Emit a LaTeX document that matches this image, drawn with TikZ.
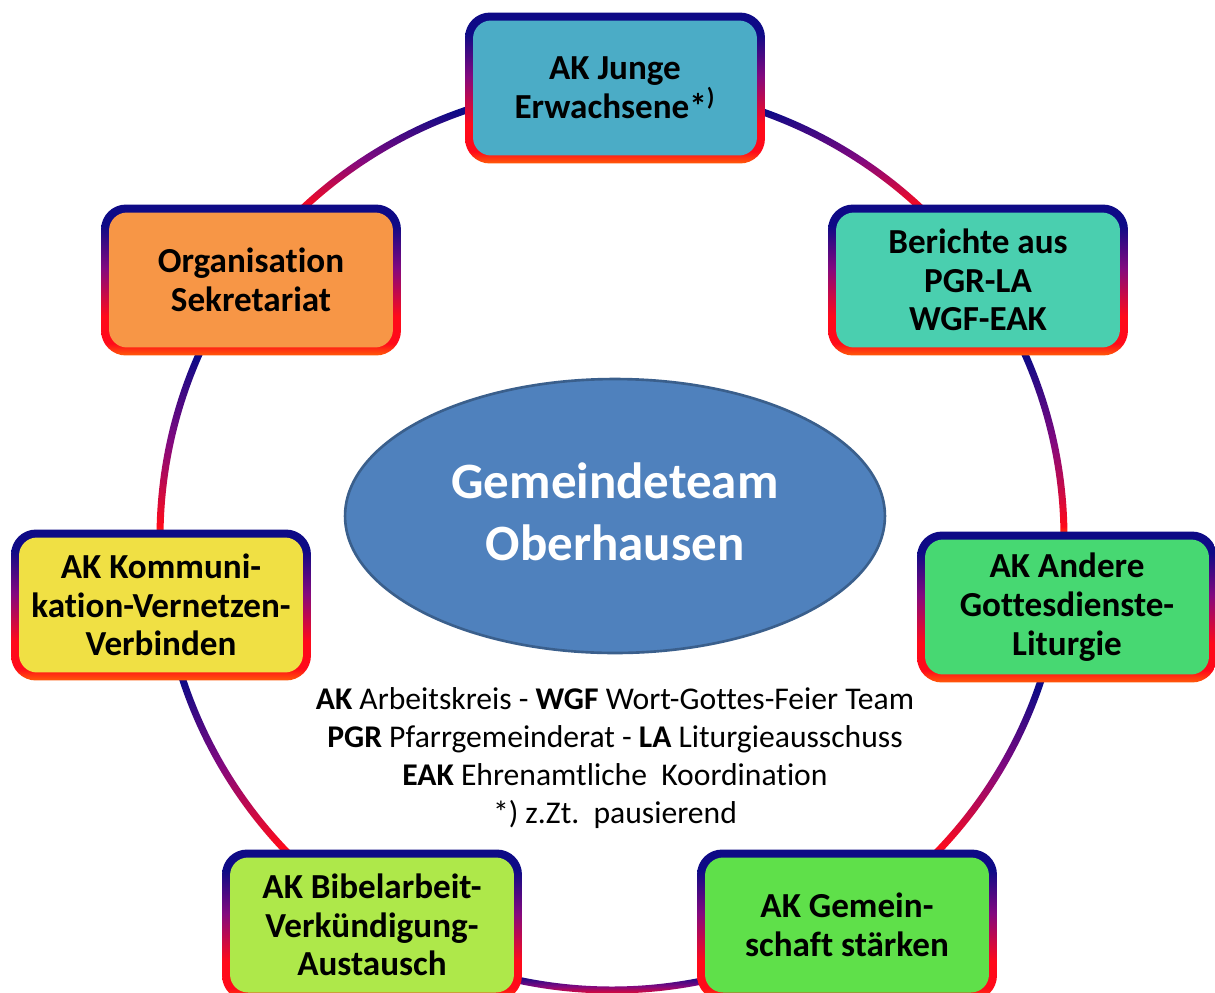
\documentclass[tikz,border=0pt]{standalone}
\usepackage{fontspec}
\setmainfont{Carlito}[Ligatures=NoCommon]
\usetikzlibrary{shapes.geometric}

\definecolor{rimblue}{HTML}{0E0A86}
\definecolor{rimpurple}{HTML}{82097F}
\definecolor{rimred}{HTML}{FF0A1A}
\definecolor{rimorange}{HTML}{FF5C08}
\definecolor{cteal}{HTML}{4BACC6}
\definecolor{corange}{HTML}{F79646}
\definecolor{cmint}{HTML}{4ACFAF}
\definecolor{cyellow}{HTML}{F0E044}
\definecolor{cgreen}{HTML}{47D872}
\definecolor{clime}{HTML}{AEE84A}
\definecolor{cleaf}{HTML}{5FE04A}
\definecolor{teamblue}{HTML}{4F81BD}
\definecolor{teamedge}{HTML}{3A5F8C}

\pgfdeclareverticalshading{rimshade}{100bp}{color(0bp)=(rimorange); color(25bp)=(rimorange); color(29bp)=(rimred); color(38bp)=(rimred); color(54bp)=(rimpurple); color(68bp)=(rimblue); color(100bp)=(rimblue)}
\pgfdeclareverticalshading{ringshade}{100bp}{color(0bp)=(rimorange); color(25bp)=(rimorange); color(28bp)=(rimred); color(50bp)=(rimpurple); color(72bp)=(rimblue); color(100bp)=(rimblue)}

\tikzset{
	rim/.style={shade, shading=rimshade, rounded corners=0.5cm, minimum width=6cm, minimum height=3.02cm, inner sep=0pt},
	card/.style={fill=#1, rounded corners=0.36cm, minimum width=5.68cm, minimum height=2.7cm, inner sep=0pt, align=center, font=\bfseries\fontsize{20}{22}\selectfont},
}

\begin{document}
\begin{tikzpicture}[x=0.02cm, y=0.02cm]
	\fill[white] (0,0) rectangle (1215,-992);
	\useasboundingbox (0,0) rectangle (1215,-992);

	% ring between the boxes
	\foreach \a/\b in {108/134, 155/180, 197/225, 257/283, 315/342, 0/25, 46/72}
		\shade[shading=ringshade] ([shift={(612,-538)}]\a:448.5) arc[start angle=\a, end angle=\b, radius=448.5] -- ([shift={(612,-538)}]\b:455.5) arc[start angle=\b, end angle=\a, radius=455.5] -- cycle;

	\node[rim] (junge) at (615,-88) {};
	\node[card=cteal] at (junge) {AK Junge\\Erwachsene*\textsuperscript{)}};
	\node[rim] (orga) at (251,-280) {};
	\node[card=corange] at (orga) {Organisation\\Sekretariat};
	\node[rim] (berichte) at (978,-280) {};
	\node[card=cmint] at (berichte) {Berichte aus\\PGR-LA\\WGF-EAK};
	\node[rim] (kommu) at (161,-605) {};
	\node[card=cyellow] at (kommu) {AK Kommuni-\\kation-Vernetzen-\\Verbinden};
	\node[rim] (andere) at (1067,-607) {};
	\node[card=cgreen] at (andere) {AK Andere\\Gottesdienste-\\Liturgie};
	\node[rim] (bibel) at (372,-925) {};
	\node[card=clime] at (bibel) {AK Bibelarbeit-\\Verkündigung-\\Austausch};
	\node[rim] (gemein) at (847,-925) {};
	\node[card=cleaf] at (gemein) {AK Gemein-\\schaft stärken};

	\node[ellipse, fill=teamblue, draw=teamedge, line width=1.5pt, minimum width=10.8cm, minimum height=5.48cm, inner sep=0pt] (team) at (615,-516) {};
	\node[text=white, align=center, font=\bfseries\fontsize{29}{35}\selectfont] (teamname) at (615,-512) {Gemeindeteam\\Oberhausen};

	\node[align=center, font=\fontsize{18}{21.6}\selectfont] (legende) at (615,-758) {\textbf{AK} Arbeitskreis - \textbf{WGF} Wort-Gottes-Feier Team\\\textbf{PGR} Pfarrgemeinderat - \textbf{LA} Liturgieausschuss\\\textbf{EAK} Ehrenamtliche\ \ Koordination\\*) z.Zt.\ \ pausierend};
\end{tikzpicture}
\end{document}
